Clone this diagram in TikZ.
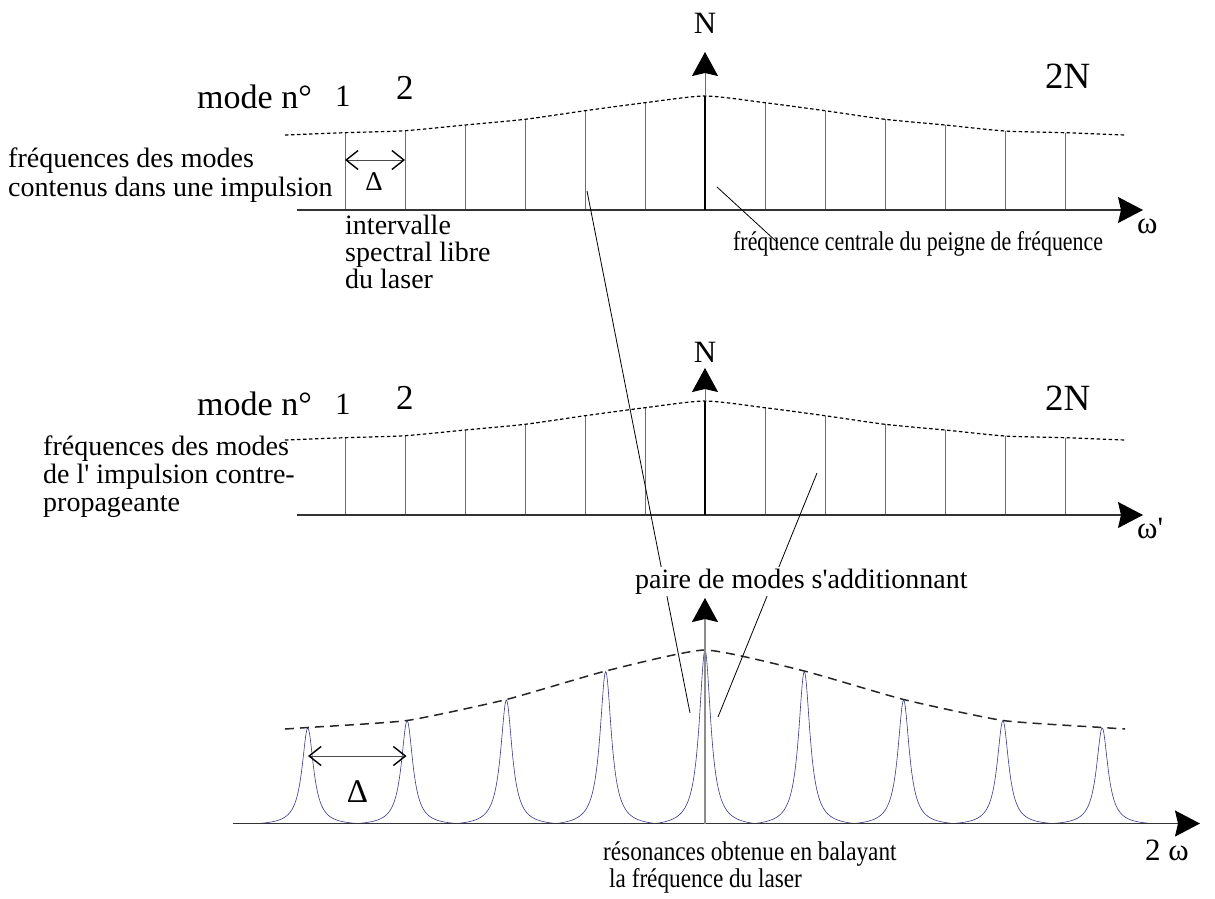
\documentclass[tikz,border=0pt]{standalone}
\usepackage{fontspec}
\setmainfont{Liberation Serif}
\newfontfamily\condA{Liberation Serif}[FakeStretch=0.81]
\newfontfamily\condB{Liberation Serif}[FakeStretch=0.86]
\usetikzlibrary{arrows.meta}
\definecolor{stemgray}{RGB}{110,110,110}
\definecolor{axisgray}{RGB}{50,50,50}
\definecolor{peakblue}{RGB}{55,55,140}
\begin{document}
\begin{tikzpicture}[x=1pt,y=-1pt,
  txt/.style={font=\fontsize{28}{30}\selectfont, inner sep=0pt, anchor=base west},
  bigtxt/.style={font=\fontsize{34}{36}\selectfont, inner sep=0pt, anchor=base west},
  stem/.style={draw=stemgray, line width=1pt},
  axisline/.style={draw=axisgray, line width=1.1pt, -{Stealth[length=25pt,width=26pt,inset=3pt,color=black]}},
  uparrow/.style={draw=stemgray, line width=1pt, -{Stealth[length=24pt,width=26pt,inset=3pt,color=black]}},
  centerstem/.style={draw=black, line width=2.2pt},
  dotenv/.style={draw=black, line width=1.2pt, dash pattern=on 3.5pt off 2.5pt},
  dashenv/.style={draw=black!85, line width=1.5pt, dash pattern=on 9pt off 6pt},
  deltaarrow/.style={draw=black!70, line width=1pt, {Straight Barb[length=12pt,width=19pt,line width=1.4pt,color=black]}-{Straight Barb[length=12pt,width=19pt,line width=1.4pt,color=black]}},
  leader/.style={draw=black, line width=0.8pt},
  peak/.style={draw=peakblue, line width=0.6pt}]
\useasboundingbox (0,0) rectangle (1215,898);

% ---------------- panel 1 ----------------
\coordinate (a1s) at (297,210);
\coordinate (a1e) at (1143,210);
\foreach \xx/\yy in {345/132.7,405/130.7,465/125,525/119.3,585/110.7,645/102.7,
                     765/102.7,825/110.7,885/119.3,945/125,1005/131,1065/132.7}
  \draw[stem] (\xx,210) -- (\xx,\yy);
\draw[dotenv] plot[smooth,tension=0.4] coordinates {(285,135) (345,132.7) (405,130.7) (465,125) (525,119.3) (585,110.7) (645,102.7) (705,96) (765,102.7) (825,110.7) (885,119.3) (945,125) (1005,131) (1065,132.7) (1125,135)};
\draw[axisline] (a1s) -- (a1e);
\coordinate (c1b) at (705,210);
\coordinate (c1m) at (705,96);
\coordinate (c1t) at (705,52);
\draw[centerstem] (c1b) -- (c1m);
\draw[uparrow] (c1m) -- (c1t);
\coordinate (d1l) at (345,160);
\coordinate (d1r) at (405,160);
\draw[deltaarrow] (d1l) -- (d1r);
\node[txt, font=\fontsize{27}{29}\selectfont, anchor=base] (delta1) at (374,190) {Δ};
\node[txt, font=\fontsize{31}{33}\selectfont, anchor=base] (N1) at (705,33) {N};
\node[bigtxt] (mode1) at (197,108) {mode n°};
\node[txt, font=\fontsize{31}{33}\selectfont] (one1) at (335,106) {1};
\node[txt, font=\fontsize{35}{37}\selectfont] (two1) at (396,99) {2};
\node[txt, font=\fontsize{37}{39}\selectfont] (twoN1) at (1045,88) {2N};
\node[txt, font=\fontsize{31}{33}\selectfont] (om1) at (1137,233) {ω};
\node[txt] (f1a) at (8,167) {fréquences des modes};
\node[txt] (f1b) at (8,196) {contenus dans une impulsion};
\node[txt] (isl1) at (345,234) {intervalle};
\node[txt] (isl2) at (345,261) {spectral libre};
\node[txt] (isl3) at (345,288) {du laser};
\node[txt, font=\condA\fontsize{27}{29}\selectfont] (fc) at (733,250) {fréquence centrale du peigne de fréquence};
\coordinate (lb1) at (717,187);
\coordinate (lb2) at (778,243);
\draw[leader] (lb1) -- (lb2);

% ---------------- panel 2 ----------------
\coordinate (a2s) at (297,515);
\coordinate (a2e) at (1143,515);
\foreach \xx/\yy in {345/132.7,405/130.7,465/125,525/119.3,585/110.7,645/102.7,
                     765/102.7,825/110.7,885/119.3,945/125,1005/131,1065/132.7}
  \draw[stem] (\xx,515) -- (\xx,\yy+305);
\draw[dotenv] plot[smooth,tension=0.4] coordinates {(285,440) (345,437.7) (405,435.7) (465,430) (525,424.3) (585,415.7) (645,407.7) (705,401) (765,407.7) (825,415.7) (885,424.3) (945,430) (1005,436) (1065,437.7) (1125,440)};
\draw[axisline] (a2s) -- (a2e);
\coordinate (c2b) at (705,515);
\coordinate (c2m) at (705,401);
\coordinate (c2t) at (705,368);
\draw[centerstem] (c2b) -- (c2m);
\draw[uparrow] (c2m) -- (c2t);
\node[txt, font=\fontsize{31}{33}\selectfont, anchor=base] (N2) at (705,362) {N};
\node[bigtxt] (mode2) at (197,415) {mode n°};
\node[txt, font=\fontsize{31}{33}\selectfont] (one2) at (335,414) {1};
\node[txt, font=\fontsize{35}{37}\selectfont] (two2) at (396,409) {2};
\node[txt, font=\fontsize{37}{39}\selectfont] (twoN2) at (1045,410) {2N};
\node[txt, font=\fontsize{31}{33}\selectfont] (om2) at (1137,538) {ω\textquotesingle};
\node[txt] (f2a) at (43,455) {fréquences des modes};
\node[txt] (f2b) at (43,483) {de l\textquotesingle{} impulsion contre-};
\node[txt] (f2c) at (43,511) {propageante};

% ---------------- panel 3 ----------------
\foreach \xc/\h in {307.8/95.5,407.1/102.8,506.4/123.5,605.7/151.8,705/173.5,804.3/151.8,903.6/123.5,1002.9/102.8,1102.2/95.5}
  \draw[peak] plot[domain=-49.65:49.65, samples=181] ({\xc+\x},{823.5-\h*(49/(\x*\x+49)-0.0195)/0.9805});
\draw[dashenv] plot[smooth,tension=0.3] coordinates {(285,729) (307.8,727.5) (407.1,720.5) (506.4,699.5) (605.7,671) (705,650) (804.3,671) (903.6,699.5) (1002.9,720.5) (1102.2,727.5) (1125,729)};
\coordinate (a3s) at (233,823.5);
\coordinate (a3e) at (1200,823.5);
\draw[axisline] (a3s) -- (a3e);
\coordinate (c3b) at (705,823.5);
\coordinate (c3t) at (705,598);
\draw[draw=black!45, line width=1.6pt, -{Stealth[length=24pt,width=26pt,inset=3pt,color=black]}] (c3b) -- (c3t);
\coordinate (d3l) at (308,756);
\coordinate (d3r) at (406.5,756);
\draw[deltaarrow] (d3l) -- (d3r);
\node[txt, font=\fontsize{33}{35}\selectfont, anchor=base] (delta3) at (357.5,802) {Δ};
\node[txt, font=\condB\fontsize{27}{29}\selectfont] (res1) at (603,860) {résonances obtenue en balayant};
\node[txt, font=\condB\fontsize{27}{29}\selectfont] (res2) at (609,887) {la fréquence du laser};
\node[txt, font=\fontsize{31}{33}\selectfont] (tw) at (1145,860) {2 ω};

% leaders to the pair label
\coordinate (la1) at (587,191);
\coordinate (la2) at (690,713);
\coordinate (lc1) at (817,473);
\coordinate (lc2) at (718,717);
\draw[leader] (la1) -- (la2);
\draw[leader] (lc1) -- (lc2);
\node[txt, fill=white, inner sep=2pt] (pair) at (633,588) {paire de modes s\textquotesingle{}additionnant};
\end{tikzpicture}
\end{document}
